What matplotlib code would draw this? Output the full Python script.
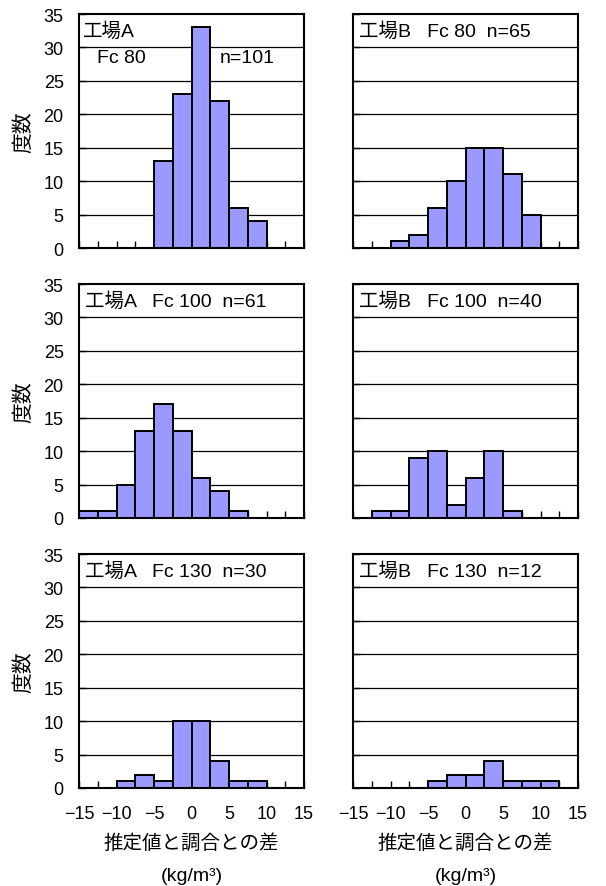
import matplotlib
matplotlib.use("Agg")
import matplotlib.pyplot as plt
import numpy as np

plt.rcParams['font.family'] = ['Liberation Sans', 'Noto Sans CJK JP', 'DejaVu Sans']

# bin lower bounds (kg/m3), bin width 2.5
bin_lo = [-15, -12.5, -10, -7.5, -5, -2.5, 0, 2.5, 5, 7.5, 10, 12.5]
bin_width = 2.5

counts_A80 = [0, 0, 0, 0, 13, 23, 33, 22, 6, 4, 0, 0]
counts_B80 = [0, 0, 1, 2, 6, 10, 15, 15, 11, 5, 0, 0]
counts_A100 = [1, 1, 5, 13, 17, 13, 6, 4, 1, 0, 0, 0]
counts_B100 = [0, 1, 1, 9, 10, 2, 6, 10, 1, 0, 0, 0]
counts_A130 = [0, 0, 1, 2, 1, 10, 10, 4, 1, 1, 0, 0]
counts_B130 = [0, 0, 0, 0, 1, 2, 2, 4, 1, 1, 1, 0]

panels = [
    ("工場A", "80", "101", counts_A80),
    ("工場B", "80", "65", counts_B80),
    ("工場A", "100", "61", counts_A100),
    ("工場B", "100", "40", counts_B100),
    ("工場A", "130", "30", counts_A130),
    ("工場B", "130", "12", counts_B130),
]

y_ticks = [0, 5, 10, 15, 20, 25, 30, 35]
x_ticks = [-15, -10, -5, 0, 5, 10, 15]

W, H = 606, 887
fig = plt.figure(figsize=(W / 100, H / 100), dpi=100)

col_left = [79, 353]
ax_w = 225
ax_h = 234
row_bottom = [249, 519, 789]

bar_color = '#9999FF'

for i, (plant, fc, n, counts) in enumerate(panels):
    r, c = divmod(i, 2)
    ax = fig.add_axes([col_left[c] / W, 1 - row_bottom[r] / H, ax_w / W, ax_h / H])
    lo = [b for b, v in zip(bin_lo, counts) if v > 0]
    hv = [v for v in counts if v > 0]
    ax.bar(lo, hv, width=bin_width, align='edge', color=bar_color,
           edgecolor='black', linewidth=1.4, zorder=3)
    ax.set_xlim(-15, 15)
    ax.set_ylim(0, 35)
    ax.set_yticks(y_ticks)
    for yv in y_ticks[1:-1]:
        ax.axhline(yv, color='black', linewidth=0.9, zorder=1)
    ax.set_xticks(x_ticks)
    ax.set_xticks(np.array(bin_lo[1:]), minor=True)
    ax.tick_params(axis='x', which='both', direction='in', length=5, width=1,
                   pad=12, labelsize=13)
    ax.tick_params(axis='y', which='both', direction='in', length=5, width=1,
                   pad=11, labelsize=13)
    if r < 2:
        ax.tick_params(axis='x', labelbottom=False)
    if c == 1:
        ax.tick_params(axis='y', labelleft=False)
    for s in ax.spines.values():
        s.set_linewidth(1.5)
        s.set_zorder(4)
    if i == 0:
        ax.text(0.018, 0.927, plant, transform=ax.transAxes, fontsize=14,
                ha='left', va='center')
        ax.text(0.08, 0.812, "Fc 80".replace("80", fc), transform=ax.transAxes,
                fontsize=14, ha='left', va='center')
        ax.text(0.627, 0.812, "n=" + n, transform=ax.transAxes, fontsize=14,
                ha='left', va='center')
    else:
        ax.text(0.027, 0.93, f"{plant}   Fc {fc}  n={n}", transform=ax.transAxes,
                fontsize=14, ha='left', va='center')
    if c == 0:
        ax.text(-0.245, 0.5, "度数", transform=ax.transAxes, fontsize=15,
                rotation=90, ha='center', va='center')
    if r == 2:
        ax.text(0.5, -0.232, "推定値と調合との差", transform=ax.transAxes,
                fontsize=14, ha='center', va='center')
        ax.text(0.5, -0.372, "(kg/m³)", transform=ax.transAxes,
                fontsize=14, ha='center', va='center')

fig.savefig("out.png", dpi=100)
